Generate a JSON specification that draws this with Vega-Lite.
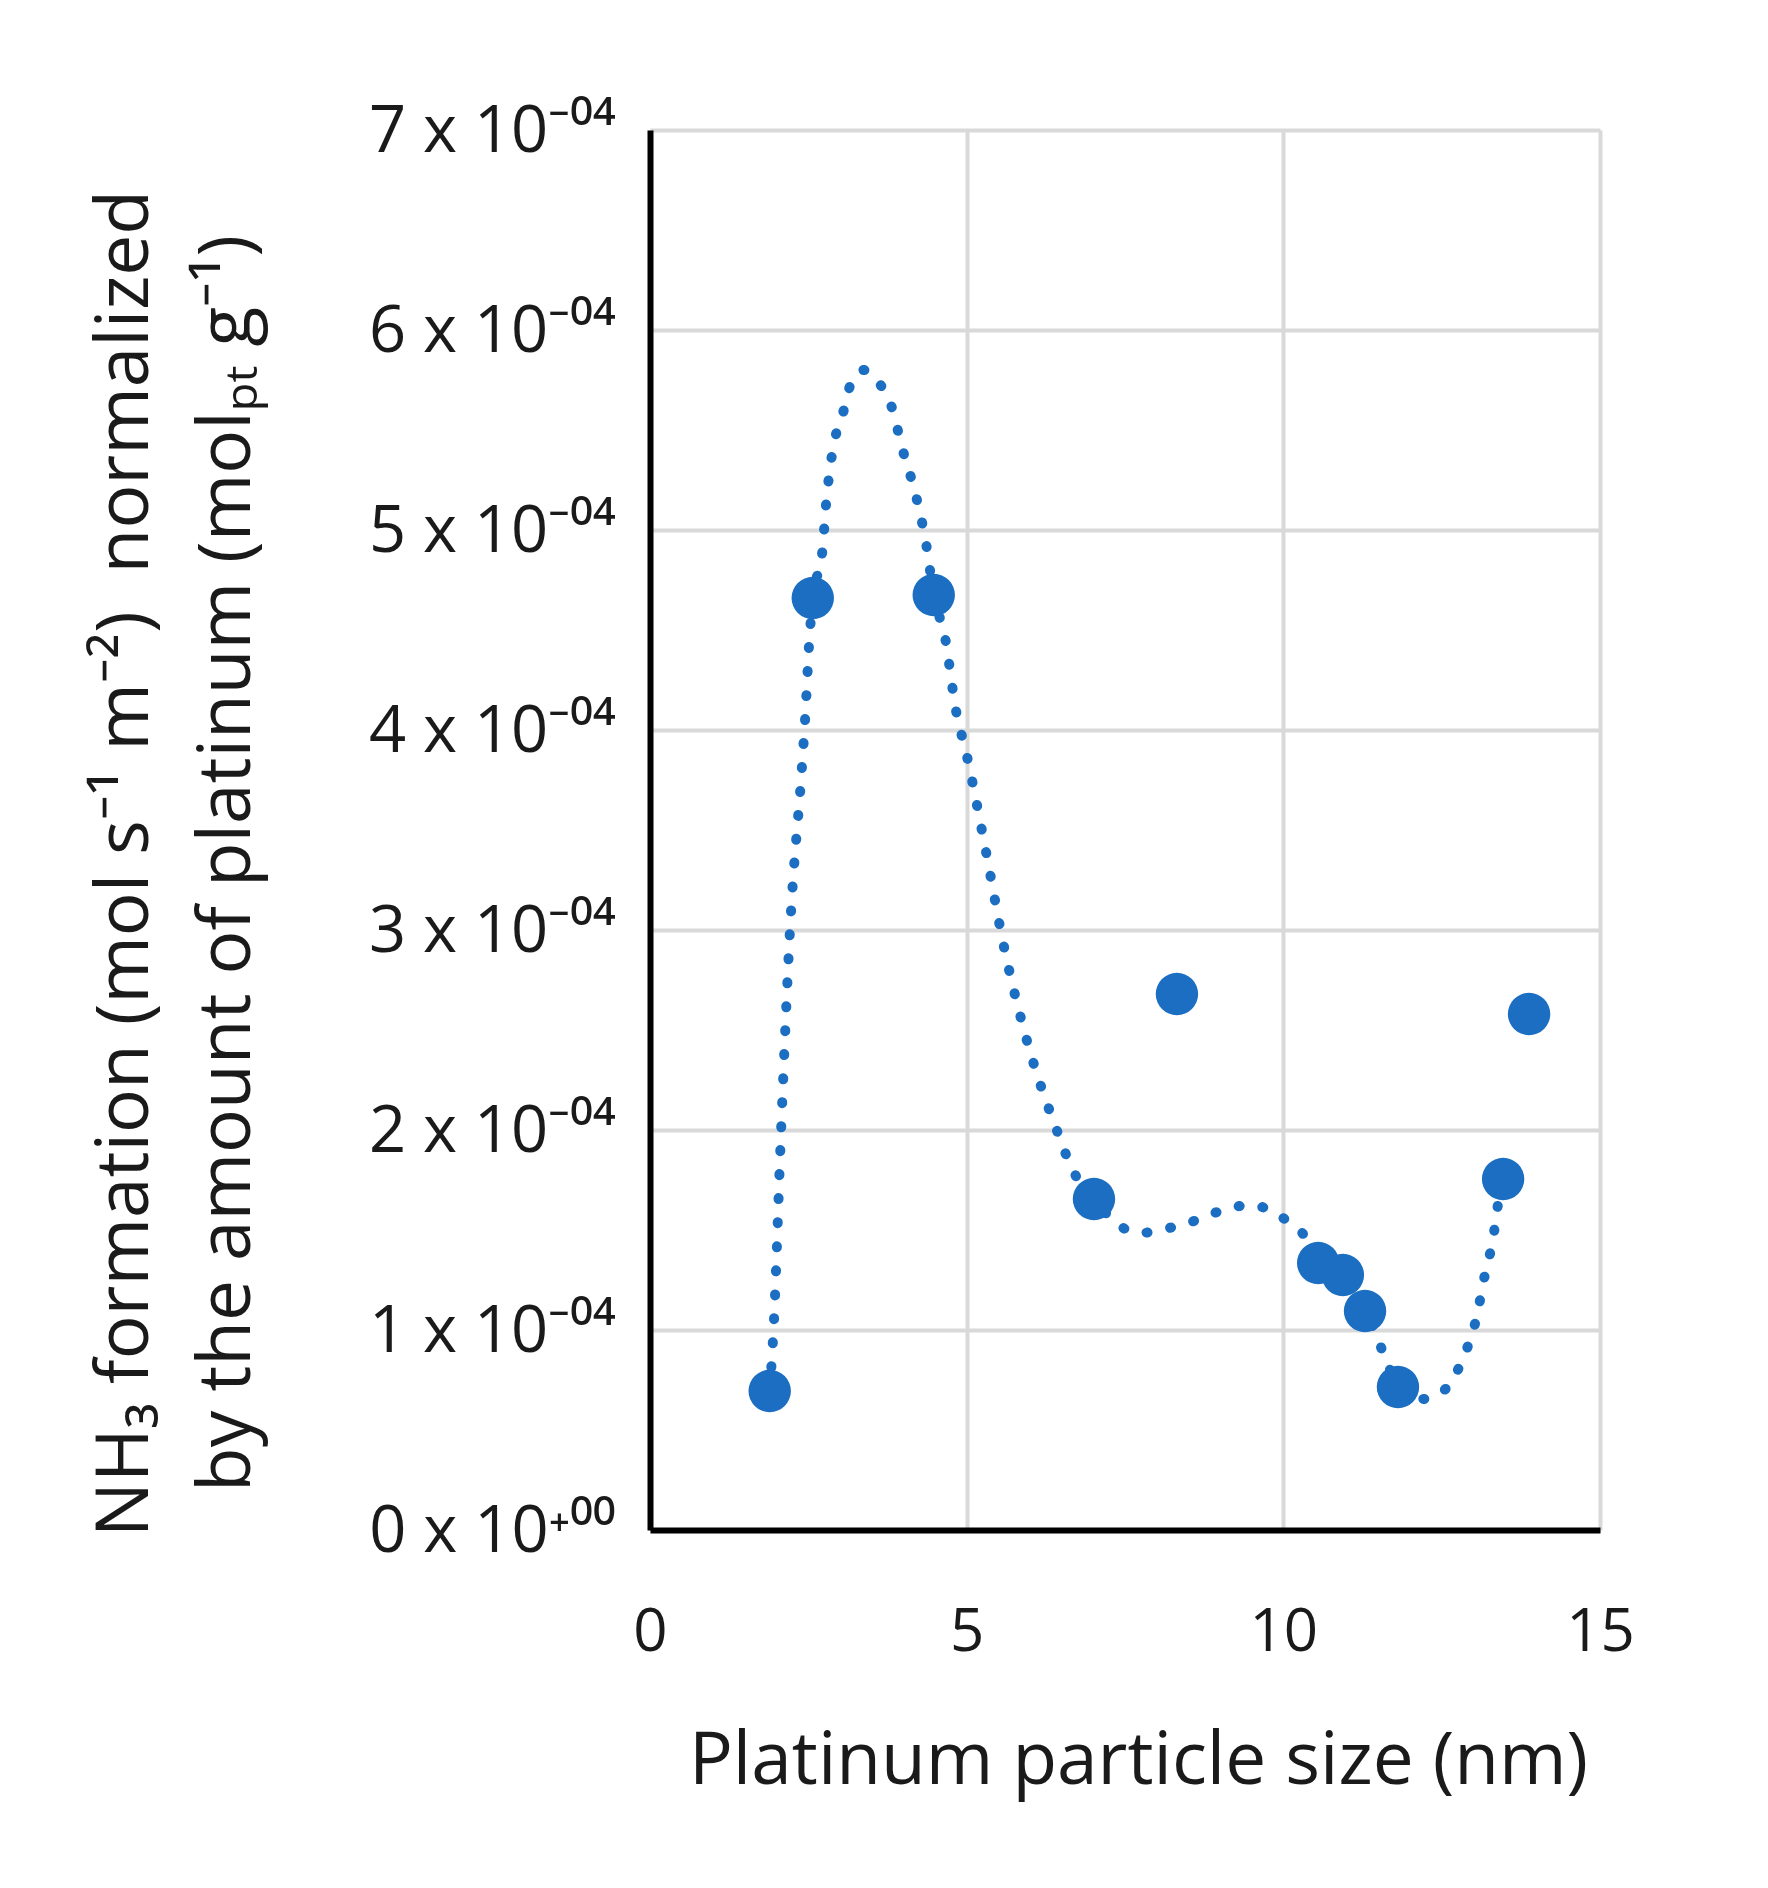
{
  "$schema": "https://vega.github.io/schema/vega-lite/v6.json",
  "width": 950,
  "height": 1400,
  "autosize": "none",
  "padding": {"left": 650, "top": 130, "right": 168, "bottom": 358},
  "background": "white",
  "config": {
    "font": "Open Sans",
    "view": {"stroke": null},
    "axis": {
      "labelColor": "#1a1a1a",
      "titleColor": "#1a1a1a",
      "labelFont": "Open Sans",
      "titleFont": "Open Sans",
      "titleFontWeight": "normal",
      "gridColor": "#d9d9d9",
      "gridWidth": 4,
      "domainColor": "black",
      "domainWidth": 6,
      "ticks": false,
      "labelLimit": 0,
      "titleLimit": 0
    }
  },
  "datasets": {
    "measured": [
      {"size_nm": 1.89, "nh3": 0.0000695},
      {"size_nm": 2.57, "nh3": 0.000466},
      {"size_nm": 4.48, "nh3": 0.0004675},
      {"size_nm": 7.01, "nh3": 0.0001655},
      {"size_nm": 8.32, "nh3": 0.000268},
      {"size_nm": 10.55, "nh3": 0.0001335},
      {"size_nm": 10.94, "nh3": 0.0001275},
      {"size_nm": 11.29, "nh3": 0.0001095},
      {"size_nm": 11.81, "nh3": 0.0000715},
      {"size_nm": 13.47, "nh3": 0.0001755},
      {"size_nm": 13.88, "nh3": 0.000258}
    ],
    "smoothed": [
      {"size_nm": 1.89, "nh3": 0.0000695},
      {"size_nm": 1.95, "nh3": 0.0001},
      {"size_nm": 2.07, "nh3": 0.0002},
      {"size_nm": 2.21, "nh3": 0.0003},
      {"size_nm": 2.4, "nh3": 0.000382},
      {"size_nm": 2.45, "nh3": 0.000406},
      {"size_nm": 2.51, "nh3": 0.000442},
      {"size_nm": 2.57, "nh3": 0.000466},
      {"size_nm": 2.72, "nh3": 0.000489},
      {"size_nm": 2.78, "nh3": 0.000513},
      {"size_nm": 2.87, "nh3": 0.000537},
      {"size_nm": 3.06, "nh3": 0.00056},
      {"size_nm": 3.17, "nh3": 0.000573},
      {"size_nm": 3.38, "nh3": 0.00058},
      {"size_nm": 3.63, "nh3": 0.000573},
      {"size_nm": 3.8, "nh3": 0.000563},
      {"size_nm": 3.99, "nh3": 0.00054},
      {"size_nm": 4.2, "nh3": 0.000517},
      {"size_nm": 4.36, "nh3": 0.000493},
      {"size_nm": 4.48, "nh3": 0.0004675},
      {"size_nm": 4.66, "nh3": 0.000446},
      {"size_nm": 4.83, "nh3": 0.00041},
      {"size_nm": 5.0, "nh3": 0.0003875},
      {"size_nm": 5.3, "nh3": 0.00034},
      {"size_nm": 5.58, "nh3": 0.000293},
      {"size_nm": 5.94, "nh3": 0.000246},
      {"size_nm": 6.41, "nh3": 0.000201},
      {"size_nm": 6.69, "nh3": 0.000179},
      {"size_nm": 7.01, "nh3": 0.0001655},
      {"size_nm": 7.42, "nh3": 0.000152},
      {"size_nm": 7.75, "nh3": 0.0001485},
      {"size_nm": 8.11, "nh3": 0.0001505},
      {"size_nm": 8.46, "nh3": 0.000153},
      {"size_nm": 8.78, "nh3": 0.000157},
      {"size_nm": 9.11, "nh3": 0.0001605},
      {"size_nm": 9.47, "nh3": 0.0001625},
      {"size_nm": 9.82, "nh3": 0.0001595},
      {"size_nm": 10.12, "nh3": 0.000153},
      {"size_nm": 10.37, "nh3": 0.0001455},
      {"size_nm": 10.55, "nh3": 0.0001335},
      {"size_nm": 10.94, "nh3": 0.0001275},
      {"size_nm": 11.29, "nh3": 0.0001095},
      {"size_nm": 11.62, "nh3": 0.0000855},
      {"size_nm": 11.81, "nh3": 0.0000715},
      {"size_nm": 12.2, "nh3": 0.0000655},
      {"size_nm": 12.46, "nh3": 0.000068},
      {"size_nm": 12.69, "nh3": 0.000076},
      {"size_nm": 12.85, "nh3": 0.000087},
      {"size_nm": 12.98, "nh3": 0.000098},
      {"size_nm": 13.07, "nh3": 0.000109},
      {"size_nm": 13.14, "nh3": 0.000121},
      {"size_nm": 13.22, "nh3": 0.000133},
      {"size_nm": 13.31, "nh3": 0.000145},
      {"size_nm": 13.36, "nh3": 0.000157},
      {"size_nm": 13.47, "nh3": 0.0001755}
    ]
  },
  "encoding": {
    "x": {
      "field": "size_nm",
      "type": "quantitative",
      "scale": {"domain": [0, 15], "nice": false, "zero": true},
      "axis": {
        "values": [0, 5, 10, 15],
        "title": "Platinum particle size (nm)",
        "titleFontSize": 73,
        "titleBaseline": "alphabetic",
        "titleAlign": "center",
        "titleX": 488,
        "titleY": 253,
        "labelFontSize": 60,
        "labelBaseline": "alphabetic",
        "labelPadding": 120,
        "labelFlush": false,
        "labelOverlap": false
      }
    },
    "y": {
      "field": "nh3",
      "type": "quantitative",
      "scale": {"domain": [0, 0.0007], "nice": false},
      "axis": {
        "values": [0, 0.0001, 0.0002, 0.0003, 0.0004, 0.0005, 0.0006, 0.0007],
        "labelExpr": "datum.value == 0 ? '0 x 10⁺⁰⁰' : format(datum.value * 10000, '.0f') + ' x 10⁻⁰⁴'",
        "labelFontSize": 65,
        "labelAlign": "right",
        "labelBaseline": "alphabetic",
        "labelOffset": 21,
        "labelPadding": 35,
        "labelFlush": false,
        "labelOverlap": false,
        "title": ["NH₃ formation (mol s⁻¹ m⁻²)\u00a0\u00a0normalized", "by the amount of platinum (molₚₜ g⁻¹)"],
        "titleFontSize": 73,
        "titleAngle": -90,
        "titleAlign": "center",
        "titleBaseline": "alphabetic",
        "titleLineHeight": 102,
        "titleX": -503,
        "titleY": 733
      }
    }
  },
  "layer": [
    {
      "data": {"name": "smoothed"},
      "mark": {
        "type": "line",
        "interpolate": "monotone",
        "color": "#1b6ec2",
        "strokeWidth": 10,
        "strokeCap": "round",
        "strokeDash": [1, 23]
      }
    },
    {
      "data": {"name": "measured"},
      "mark": {"type": "circle", "color": "#1b6ec2", "opacity": 1, "size": 1800}
    }
  ]
}
